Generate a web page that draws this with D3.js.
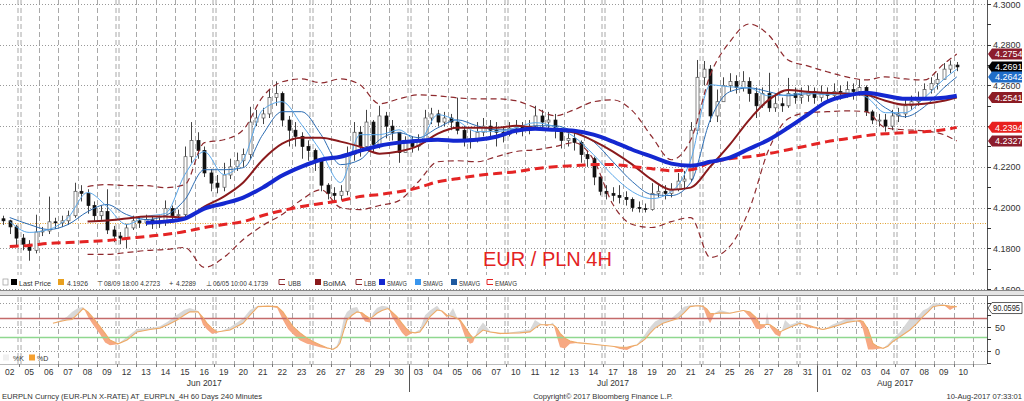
<!DOCTYPE html>
<html><head><meta charset="utf-8">
<script src="https://cdn.jsdelivr.net/npm/d3@7"></script>
<style>
body{margin:0;background:#fff}
svg{display:block}
text{font-family:"Liberation Sans",Arial,sans-serif}
</style>
</head><body>
<svg id="c" width="1024" height="401"></svg>
<script>
// ---------------- DATA ----------------
const dayLabels = ["02","05","06","07","08","09","12","13","14","15","16","19","20","21","22","23","26","27","28","29","30",
  "03","04","05","06","07","10","11","12","13","14","17","18","19","20","21","24","25","26","27","28","31",
  "01","02","03","04","07","08","09","10"];
const monthNames = ["Jun 2017","Jul 2017","Aug 2017"];
const monthStartDay = [0,21,42];
const weekStartDay = [1,6,11,16,21,26,31,36,41,46];

const firstOpen = 4.1945;
// 8-hour sampled candles (3 per day)
const closes = [
 4.1935,4.1905,4.1850, 4.1820,4.1790,4.1880, 4.1885,4.1930,4.1925, 4.1935,4.1960,4.2080, 4.2070,4.2010,4.1960,
 4.1980,4.1890,4.1860, 4.1850,4.1900,4.1935, 4.1925,4.1940,4.1920, 4.1930,4.1995,4.1960, 4.1965,4.2250,4.2330,
 4.2280,4.2170,4.2120, 4.2100,4.2160,4.2200, 4.2230,4.2260,4.2420, 4.2440,4.2460,4.2540, 4.2560,4.2430,4.2380,
 4.2350,4.2300,4.2280, 4.2230,4.2110,4.2070, 4.2060,4.2080,4.2260, 4.2370,4.2300,4.2420, 4.2310,4.2450,4.2400,
 4.2370,4.2270,4.2320, 4.2300,4.2330,4.2440, 4.2460,4.2420,4.2440, 4.2420,4.2380,4.2330, 4.2340,4.2370,4.2400,
 4.2380,4.2370,4.2360, 4.2390,4.2400,4.2380, 4.2400,4.2450,4.2420, 4.2430,4.2380,4.2330, 4.2340,4.2320,4.2260,
 4.2240,4.2150,4.2080, 4.2070,4.2060,4.2050, 4.2040,4.2000,4.1995, 4.1990,4.2070,4.2080, 4.2070,4.2090,4.2130,
 4.2140,4.2380,4.2640, 4.2680,4.2450,4.2520, 4.2600,4.2620,4.2590, 4.2620,4.2560,4.2500, 4.2560,4.2490,4.2510,
 4.2500,4.2560,4.2540, 4.2550,4.2570,4.2540, 4.2560,4.2550,4.2570, 4.2560,4.2580,4.2570, 4.2590,4.2470,4.2430,
 4.2430,4.2400,4.2450, 4.2460,4.2500,4.2520, 4.2540,4.2580,4.2610, 4.2630,4.2680,4.2700, 4.2691];
const highs = [
 4.1960,4.1940,4.1915, 4.1870,4.1840,4.1965, 4.1905,4.2054,4.1950, 4.1960,4.1985,4.2122, 4.2110,4.2090,4.2030,
 4.2010,4.2090,4.1910, 4.1880,4.1920,4.1960, 4.1955,4.1965,4.1960, 4.1960,4.2035,4.2010, 4.1990,4.2300,4.2420,
 4.2370,4.2300,4.2190, 4.2160,4.2220,4.2240, 4.2270,4.2290,4.2495, 4.2480,4.2490,4.2580, 4.2620,4.2570,4.2450,
 4.2420,4.2370,4.2330, 4.2290,4.2240,4.2120, 4.2100,4.2110,4.2300, 4.2420,4.2400,4.2480, 4.2430,4.2500,4.2470,
 4.2430,4.2370,4.2350, 4.2350,4.2360,4.2480, 4.2490,4.2480,4.2470, 4.2460,4.2540,4.2400, 4.2380,4.2420,4.2440,
 4.2430,4.2420,4.2400, 4.2420,4.2430,4.2420, 4.2430,4.2500,4.2480, 4.2470,4.2460,4.2390, 4.2380,4.2370,4.2330,
 4.2280,4.2250,4.2150, 4.2110,4.2100,4.2110, 4.2080,4.2050,4.2030, 4.2020,4.2120,4.2110, 4.2110,4.2120,4.2170,
 4.2180,4.2420,4.2725, 4.2720,4.2700,4.2580, 4.2640,4.2660,4.2650, 4.2670,4.2640,4.2590, 4.2590,4.2662,4.2550,
 4.2540,4.2637,4.2590, 4.2590,4.2600,4.2590, 4.2600,4.2590,4.2610, 4.2600,4.2620,4.2610, 4.2630,4.2600,4.2480,
 4.2460,4.2460,4.2480, 4.2490,4.2530,4.2550, 4.2570,4.2610,4.2640, 4.2660,4.2710,4.2723, 4.2715];
const lows = [
 4.1915,4.1870,4.1815, 4.1790,4.1739,4.1775, 4.1860,4.1870,4.1895, 4.1905,4.1915,4.1950, 4.2030,4.1970,4.1930,
 4.1940,4.1870,4.1830, 4.1820,4.1800,4.1890, 4.1900,4.1910,4.1895, 4.1900,4.1910,4.1935, 4.1940,4.1950,4.2220,
 4.2240,4.2150,4.2080, 4.2070,4.2080,4.2140, 4.2180,4.2200,4.2240, 4.2400,4.2410,4.2440, 4.2500,4.2400,4.2300,
 4.2300,4.2240,4.2230, 4.2180,4.2080,4.2040, 4.2030,4.2035,4.2060, 4.2230,4.2250,4.2280, 4.2270,4.2290,4.2340,
 4.2330,4.2220,4.2270, 4.2270,4.2280,4.2320, 4.2410,4.2400,4.2400, 4.2380,4.2360,4.2300, 4.2290,4.2320,4.2350,
 4.2340,4.2300,4.2320, 4.2350,4.2360,4.2350, 4.2360,4.2390,4.2380, 4.2380,4.2340,4.2290, 4.2300,4.2280,4.2220,
 4.2200,4.2110,4.2060, 4.2040,4.2030,4.2020, 4.2010,4.1980,4.1976, 4.1976,4.1985,4.2050, 4.2040,4.2050,4.2080,
 4.2090,4.2130,4.2360, 4.2600,4.2420,4.2420, 4.2540,4.2570,4.2560, 4.2570,4.2520,4.2440, 4.2490,4.2470,4.2470,
 4.2470,4.2490,4.2510, 4.2510,4.2520,4.2510, 4.2520,4.2520,4.2530, 4.2530,4.2540,4.2530, 4.2550,4.2450,4.2410,
 4.2400,4.2373,4.2380, 4.2420,4.2440,4.2480, 4.2500,4.2530,4.2560, 4.2580,4.2630,4.2660, 4.2670];

// daily-sampled studies (one value per trading day, null = not drawn)
const smaThick = [null,null,null,null,null,null,null,
 4.1926,4.1931,4.1946,4.1995,4.2020,4.2049,4.2098,4.2157,4.2201,4.2235,4.2250,4.2279,4.2304,4.2319,
 4.2328,4.2333,4.2328,4.2333,4.2348,4.2377,4.2387,4.2382,4.2377,4.2358,4.2324,4.2284,4.2250,4.2216,
 4.2206,4.2225,4.2245,4.2289,4.2333,4.2392,4.2456,4.2520,4.2549,4.2564,4.2549,4.2534,4.2534,4.2539,4.2549];
const emaAvg = [4.1809,4.1814,4.1824,4.1828,4.1833,4.1838,4.1848,4.1858,4.1868,4.1882,
 4.1902,4.1917,4.1931,4.1961,4.1985,4.2005,4.2020,4.2034,4.2054,4.2064,
 4.2078,4.2098,4.2127,4.2142,4.2157,4.2167,4.2176,4.2191,4.2201,4.2206,
 4.2211,4.2211,4.2201,4.2191,4.2181,4.2186,4.2221,4.2240,4.2250,4.2265,
 4.2284,4.2304,4.2324,4.2338,4.2353,4.2363,4.2368,4.2373,4.2382,4.2394];
const bolMA = [null,null,null,null,4.1931,4.1936,4.1946,4.1956,4.1956,4.1951,
 4.2005,4.2054,4.2123,4.2235,4.2314,4.2343,4.2343,4.2324,4.2299,4.2265,
 4.2275,4.2304,4.2363,4.2392,4.2392,4.2392,4.2402,4.2392,4.2382,4.2368,
 4.2328,4.2275,4.2211,4.2137,4.2088,4.2098,4.2201,4.2309,4.2431,4.2529,
 4.2578,4.2569,4.2564,4.2559,4.2554,4.2525,4.2505,4.2510,4.2525,4.2541];
const upperBB = [null,null,null,null,4.2103,4.2113,4.2108,4.2108,4.2098,4.2113,
 4.2319,4.2333,4.2382,4.2544,4.2618,4.2632,4.2613,4.2632,4.2603,4.2510,
 4.2534,4.2554,4.2549,4.2539,4.2534,4.2534,4.2525,4.2490,4.2451,4.2480,
 4.2520,4.2529,4.2475,4.2348,4.2235,4.2333,4.2652,4.2814,4.2902,4.2848,
 4.2725,4.2696,4.2667,4.2642,4.2627,4.2642,4.2632,4.2627,4.2706,4.2754];
const lowerBB = [null,null,null,null,4.1770,4.1770,4.1779,4.1789,4.1794,4.1804,
 4.1706,4.1755,4.1843,4.1912,4.1966,4.2039,4.2088,4.2000,4.1990,4.2010,
 4.2034,4.2127,4.2225,4.2230,4.2225,4.2250,4.2275,4.2284,4.2299,4.2319,
 4.2235,4.2015,4.1917,4.1902,4.1931,4.1951,4.1755,4.1809,4.1990,4.2284,
 4.2436,4.2466,4.2471,4.2475,4.2471,4.2392,4.2382,4.2377,4.2358,4.2327];
const smaFast = [4.1931,4.1878,4.1892,4.1951,4.2074,4.2005,4.1917,4.1956,4.1971,4.2162,
 4.2275,4.2162,4.2235,4.2480,4.2520,4.2407,4.2275,4.2123,4.2358,4.2358,
 4.2382,4.2324,4.2456,4.2426,4.2373,4.2373,4.2392,4.2417,4.2397,4.2348,
 4.2260,4.2157,4.2078,4.2044,4.2078,4.2235,4.2603,4.2593,4.2588,4.2549,
 4.2554,4.2564,4.2554,4.2564,4.2544,4.2466,4.2466,4.2539,4.2630,4.2680];
const smaSlow = [4.1951,4.1917,4.1892,4.1917,4.1980,4.2015,4.1966,4.1941,4.1961,4.2039,
 4.2186,4.2186,4.2196,4.2358,4.2471,4.2471,4.2358,4.2211,4.2235,4.2333,
 4.2368,4.2343,4.2392,4.2431,4.2402,4.2382,4.2382,4.2402,4.2402,4.2373,
 4.2324,4.2225,4.2127,4.2064,4.2059,4.2123,4.2431,4.2569,4.2588,4.2569,
 4.2549,4.2559,4.2559,4.2559,4.2554,4.2490,4.2446,4.2495,4.2588,4.2642];

const refLine = 4.1926;
const badgeValues = [4.2754,4.2691,4.2642,4.2541,4.2394,4.2327];
const priceTicks = [4.16,4.18,4.20,4.22,4.24,4.26,4.28,4.30];
const priceLabelTicks = [4.16,4.18,4.20,4.22,4.26,4.28,4.30];

// stochastic (time in trading days)
const stochT = [2.72,3.08,3.44,3.70,4.01,4.27,4.52,4.73,5.14,5.40,5.65,6.06,6.53,7.04,7.71,8.22,8.63,9.10,9.46,9.76,
 10.18,10.43,10.64,10.89,11.15,11.82,12.49,12.85,13.26,13.77,14.24,14.54,14.80,15.06,15.42,15.78,16.08,16.44,16.80,17.11,
 17.32,17.47,17.68,17.83,18.09,18.35,18.60,18.76,19.01,19.17,19.37,19.63,19.94,20.14,20.40,20.66,20.86,21.07,21.33,21.58,
 21.84,22.10,22.46,22.71,22.97,23.28,23.49,23.64,23.90,24.15,24.31,24.56,24.82,25.18,25.70,26.05,26.72,27.24,27.49,27.75,
 28.11,28.42,28.62,28.78,29.03,29.29,29.65,30.32,30.83,31.45,31.86,32.22,32.74,33.15,33.40,33.66,34.07,34.43,34.84,35.15,
 35.46,35.82,36.13,36.33,36.49,36.74,37.00,37.51,38.18,38.54,38.85,39.06,39.31,39.42,39.57,39.83,40.08,40.34,40.60,41.11,
 41.47,41.78,42.29,42.76,43.17,43.53,43.84,44.20,44.35,44.61,44.86,45.07,45.38,45.63,45.89,46.25,46.76,47.12,47.43,47.69,
 47.95,48.20,48.46,48.82,49.08,49.17];
const stochD = [58,62,65,66,78,89,82,72,51,37,23,15,23,40,45,48,55,65,75,82,
 82,70,58,48,40,44,58,75,93,94,93,82,66,51,38,27,20,13,7,3.5,
 8,16,45,65,75,82,80,75,68,72,79,85,89,82,72,58,48,40,38,40,
 55,72,86,84,75,72,68,65,50,35,27,35,44,40,37,37,38,40,48,55,
 55,55,48,37,27,21,17.5,15,12.6,10,8,8,12.6,25,37,48,58,63,68,80,
 93,95,94,88,79,78,80,79,85,82,70,55,55,56,55,48,40,45,50,58,
 55,51,45,50,55,60,62,64,62,45,16,10,5.6,10,20,30,44,58,72,82,
 93,95,96,94,93,93];
const stochK = [58,64,72,82,90,92,72,58,35,18,12,14,30,46,48,52,62,76,86,90,
 84,55,45,36,38,50,68,86,95,94,90,65,46,35,22,15,12,8,5,4,
 12,30,70,82,90,92,72,62,60,80,90,95,93,72,55,38,30,35,40,45,
 75,85,95,82,70,90,70,60,30,15,18,45,60,42,35,38,42,45,65,58,
 52,60,30,8,5,15,17,15,13,10,4,2,14,35,50,62,70,66,80,93,
 96,96,92,70,58,80,86,80,86,70,47,45,50,82,50,35,30,65,55,62,
 50,48,44,55,62,68,66,60,45,3,3,4,6,14,26,40,68,70,85,90,
 100,100,98,86,92,93];
const stochLevels = [70,30];
const stochBadge = 90.0595;

// ---------------- DRAWING ----------------
const svg = d3.select("#c");
const PR = 987;
const x = d3.scaleLinear().domain([0, 50.72]).range([0, PR]);
const yM = d3.scaleLinear().domain([4.16, 4.30]).range([289, 4]);
const yS = d3.scaleLinear().domain([0, 100]).range([351, 303.3]);
const nDays = dayLabels.length;
const lastT = Math.floor((closes.length-1)/3) + ((closes.length-1)%3 + 0.5)/3;
const dayT = i => Math.min(i + 0.5, lastT);

svg.append("rect").attr("width",1024).attr("height",401).attr("fill","#fff");

// clip paths
const defs = svg.append("defs");
defs.append("clipPath").attr("id","cm").append("rect").attr("x",0).attr("y",0).attr("width",PR).attr("height",289);
defs.append("clipPath").attr("id","cs").append("rect").attr("x",0).attr("y",297).attr("width",PR).attr("height",66);

// vertical grid
function vgrid(y0, y1) {
  const g = svg.append("g").attr("stroke","#a8a8a8").attr("stroke-width",1).attr("stroke-dasharray","5,3");
  for (let i = 1; i <= nDays; i++) {
    const xx = Math.round(x(i)) + 0.5;
    const offs = weekStartDay.includes(i) ? [-1.5, 1.5] : [0];
    offs.forEach(o => g.append("line").attr("x1", xx+o).attr("x2", xx+o).attr("y1", y0).attr("y2", y1));
  }
}
vgrid(0, 275);
vgrid(297, 364);

// horizontal grid main
svg.append("g").selectAll("line").data(priceTicks).join("line")
  .attr("x1",0).attr("x2",PR).attr("y1",d=>Math.round(yM(d))+0.5).attr("y2",d=>Math.round(yM(d))+0.5)
  .attr("stroke","#999").attr("stroke-dasharray","1,2");
// reference line
svg.append("line").attr("x1",0).attr("x2",PR).attr("y1",Math.round(yM(refLine))+0.5).attr("y2",Math.round(yM(refLine))+0.5)
  .attr("stroke","#e0a030").attr("stroke-dasharray","1,1.5");

// title
svg.append("text").attr("x",483).attr("y",266).attr("fill","#e3231f").attr("font-size",20)
  .text("EUR / PLN 4H");

// candles
const main = svg.append("g").attr("clip-path","url(#cm)");
const candles = closes.map((c,i)=>({t: Math.floor(i/3) + (i%3+0.5)/3, o: i ? closes[i-1] : firstOpen, h: highs[i], l: lows[i], c}));
const cg = main.append("g");
candles.forEach(d=>{
  const cx = Math.round(x(d.t)) + 0.5;
  cg.append("line").attr("x1",cx).attr("x2",cx)
    .attr("y1",yM(Math.max(d.h,d.o,d.c))).attr("y2",yM(Math.min(d.l,d.o,d.c)))
    .attr("stroke","#444").attr("stroke-width",1);
  const top = yM(Math.max(d.o,d.c)), bot = yM(Math.min(d.o,d.c));
  const up = d.c >= d.o;
  cg.append("rect").attr("x",cx-1.5).attr("y",top).attr("width",3).attr("height",Math.max(1,bot-top))
    .attr("fill", up ? "#fff" : "#111").attr("stroke", up ? "#555" : "#111").attr("stroke-width",0.7);
});

function study(values, color, width, dash) {
  const line = d3.line().defined(d=>d[1]!=null).x(d=>x(d[0])).y(d=>yM(d[1])).curve(d3.curveMonotoneX);
  const p = main.append("path").datum(values.map((v,i)=>[dayT(i), v]))
    .attr("d", line).attr("fill","none").attr("stroke",color).attr("stroke-width",width)
    .attr("stroke-linejoin","round");
  if (dash) p.attr("stroke-dasharray", dash);
}
study(smaSlow, "#2b6cb3", 1);
study(smaFast, "#5ba8ea", 1);
study(upperBB, "#8e2a2e", 1.2, "6,4");
study(lowerBB, "#8e2a2e", 1.2, "6,4");
study(bolMA, "#8a1a1c", 2);
study(emaAvg, "#e42424", 3, "9,5");
study(smaThick, "#1428d0", 4);

// right axis (main)
const ax = svg.append("g");
ax.append("line").attr("x1",PR+0.5).attr("x2",PR+0.5).attr("y1",0).attr("y2",290).attr("stroke","#555");
d3.range(4.16, 4.3001, 0.01).forEach(v=>{
  const yy = Math.round(yM(v))+0.5;
  ax.append("line").attr("x1",PR).attr("x2",PR+4).attr("y1",yy).attr("y2",yy).attr("stroke","#333");
});
ax.selectAll("text.pl").data(priceLabelTicks).join("text").attr("class","pl")
  .attr("x",993).attr("y",d=>yM(d)+3.5).attr("font-size",9).attr("fill","#333").text(d=>d.toFixed(4));

// badges
const badgeColors = ["#8c1c2c","#000000","#1f6dc8","#8c1c24","#e8201e","#8c1c2c"];
badgeValues.forEach((v,i)=>{
  const yy = yM(v);
  ax.append("path").attr("d",`M${PR+1},${yy} L${PR+5},${yy-5.5} L1022,${yy-5.5} L1022,${yy+5.5} L${PR+5},${yy+5.5} Z`)
    .attr("fill",badgeColors[i]);
  ax.append("text").attr("x",995).attr("y",yy+3.3).attr("font-size",9).attr("fill","#fff").text(v.toFixed(4));
});

// legend bar
const lg = svg.append("g");
lg.append("rect").attr("x",0).attr("y",276).attr("width",522).attr("height",13).attr("fill","#fff");
const lgY = 285.5;
function sq(xx, col){ lg.append("rect").attr("x",xx).attr("y",lgY-6.5).attr("width",6).attr("height",6).attr("fill",col); }
function txt(xx, s, w){
  const t = lg.append("text").attr("x",xx).attr("y",lgY).attr("font-size",7.4).attr("fill","#333").text(s);
  if (w) t.attr("textLength", w).attr("lengthAdjust","spacingAndGlyphs");
}
function bandIcon(xx, col){
  lg.append("path").attr("d",`M${xx},${lgY-6} L${xx+6},${lgY-6} M${xx},${lgY-1} L${xx+6},${lgY-1} M${xx},${lgY-6} L${xx},${lgY-1}`)
   .attr("stroke",col).attr("fill","none").attr("stroke-width",1);
}
lg.append("rect").attr("x",3).attr("y",lgY-6.5).attr("width",5).attr("height",6).attr("fill","none").attr("stroke","#999").attr("stroke-width",0.7);
sq(11,"#000"); txt(19,"Last Price", 32);
sq(58,"#e8a020"); txt(67,"4.1926", 21);
txt(97,"\u22A4"); txt(104,"08/09 18:00 4.2723", 56);
txt(169,"+"); txt(176,"4.2289", 20);
txt(206,"\u22A5"); txt(213,"06/05 10:00 4.1739", 55);
bandIcon(279,"#8e2a2e"); txt(288,"UBB", 13);
sq(315,"#8a1a1c"); txt(323,"BolMA", 23);
bandIcon(356,"#8e2a2e"); txt(364,"LBB", 12);
sq(379,"#1428d0"); txt(387,"SMAVG", 20);
sq(415,"#3a96ee"); txt(423,"SMAVG", 20);
sq(451,"#1f5aa0"); txt(459,"SMAVG", 21);
bandIcon(487,"#e42424"); txt(495,"EMAVG", 22);

// panel separator
svg.append("rect").attr("x",0).attr("y",290).attr("width",1024).attr("height",6).attr("fill","#e4e4e4");
svg.append("line").attr("x1",0).attr("x2",1024).attr("y1",290.5).attr("y2",290.5).attr("stroke","#888");
svg.append("line").attr("x1",0).attr("x2",1024).attr("y1",295.5).attr("y2",295.5).attr("stroke","#888");

// ---------------- stochastic panel ----------------
const sp = svg.append("g").attr("clip-path","url(#cs)");
[0,50,100].forEach(v=>{
  const yy = Math.round(yS(v))+0.5;
  sp.append("line").attr("x1",0).attr("x2",PR).attr("y1",yy).attr("y2",yy).attr("stroke","#999").attr("stroke-dasharray","1,2");
});
// fills with crossing points
const pts = [];
for (let i=0;i<stochT.length;i++){
  if (i>0){
    const d0 = stochK[i-1]-stochD[i-1], d1 = stochK[i]-stochD[i];
    if (d0*d1 < 0){
      const f = d0/(d0-d1);
      const t = stochT[i-1] + f*(stochT[i]-stochT[i-1]);
      const dv = stochD[i-1] + f*(stochD[i]-stochD[i-1]);
      pts.push({t, d:dv, k:dv});
    }
  }
  pts.push({t:stochT[i], d:stochD[i], k:stochK[i]});
}
const areaUp = d3.area().x(p=>x(p.t)).y0(p=>yS(p.d)).y1(p=>yS(Math.max(p.k,p.d)));
const areaDn = d3.area().x(p=>x(p.t)).y0(p=>yS(p.d)).y1(p=>yS(Math.min(p.k,p.d)));
sp.append("path").datum(pts).attr("d",areaUp).attr("fill","#d8d8d8");
sp.append("path").datum(pts).attr("d",areaDn).attr("fill","#f7a882");
// level lines
const levelColors = ["#c46a6a","#8fd88f"];
stochLevels.forEach((v,i)=>{
  const yy = Math.round(yS(v))+0.5;
  sp.append("line").attr("x1",0).attr("x2",PR).attr("y1",yy).attr("y2",yy).attr("stroke",levelColors[i]).attr("stroke-width",1.6);
});
sp.append("path").datum(pts).attr("d", d3.line().x(p=>x(p.t)).y(p=>yS(p.d)))
  .attr("fill","none").attr("stroke","#eeaa66").attr("stroke-width",1.1);

// stochastic legend
svg.append("rect").attr("x",3).attr("y",354.5).attr("width",6).attr("height",6).attr("fill","#f0f0f0");
svg.append("text").attr("x",13).attr("y",361).attr("font-size",7).attr("fill","#333").text("%K");
svg.append("rect").attr("x",29).attr("y",354.5).attr("width",6).attr("height",6).attr("fill","#f5a030");
svg.append("text").attr("x",37).attr("y",361).attr("font-size",7).attr("fill","#333").text("%D");

// stochastic right axis
const sa = svg.append("g");
sa.append("line").attr("x1",PR+0.5).attr("x2",PR+0.5).attr("y1",296).attr("y2",364).attr("stroke","#555");
[-25,0,25,50,75,100].forEach(v=>{
  const yy = Math.round(yS(v))+0.5;
  sa.append("line").attr("x1",PR).attr("x2",PR+4).attr("y1",yy).attr("y2",yy).attr("stroke","#333");
});
[0,50].forEach(v=>sa.append("text").attr("x",995).attr("y",yS(v)+3.5).attr("font-size",9).attr("fill","#333").text(v));
{
  const yy = yS(stochBadge);
  sa.append("path").attr("d",`M${PR+1},${yy} L${PR+5},${yy-5.5} L1022,${yy-5.5} L1022,${yy+5.5} L${PR+5},${yy+5.5} Z`)
    .attr("fill","#fff").attr("stroke","#333").attr("stroke-width",0.8);
  sa.append("text").attr("x",993).attr("y",yy+3.2).attr("font-size",8.5).attr("fill","#222")
    .attr("textLength",27).attr("lengthAdjust","spacingAndGlyphs").text(stochBadge.toFixed(4));
}

// ---------------- date axis ----------------
const da = svg.append("g");
da.append("line").attr("x1",0).attr("x2",PR).attr("y1",364.5).attr("y2",364.5).attr("stroke","#bbb");
for (let i=1;i<=nDays;i++){
  const xx = Math.round(x(i))+0.5;
  da.append("line").attr("x1",xx).attr("x2",xx).attr("y1",364).attr("y2",367).attr("stroke","#777");
}
da.selectAll("text.dl").data(dayLabels).join("text").attr("class","dl")
  .attr("x",(d,i)=>x(i+0.5)).attr("y",375).attr("text-anchor","middle").attr("font-size",8.5).attr("fill","#333").text(d=>d);
monthStartDay.forEach((s,i)=>{
  const e = i < monthStartDay.length-1 ? monthStartDay[i+1] : nDays;
  if (i>0){
    const xx = Math.round(x(s))+0.5;
    da.append("line").attr("x1",xx).attr("x2",xx).attr("y1",366).attr("y2",392).attr("stroke","#555");
  }
  da.append("text").attr("x",x((s+e)/2)).attr("y",386).attr("text-anchor","middle").attr("font-size",8.5).attr("fill","#333").text(monthNames[i]);
});

// footer
svg.append("text").attr("x",2).attr("y",399).attr("font-size",7.6).attr("fill","#333")
  .text("EURPLN Curncy (EUR-PLN X-RATE) AT_EURPLN_4H 60 Days 240 Minutes");
svg.append("text").attr("x",603).attr("y",399).attr("text-anchor","middle").attr("font-size",7.6).attr("fill","#333")
  .text("Copyright\u00A9 2017 Bloomberg Finance L.P.");
svg.append("text").attr("x",1022).attr("y",399).attr("text-anchor","end").attr("font-size",7.6).attr("fill","#333")
  .text("10-Aug-2017 07:33:01");
</script>
</body></html>
